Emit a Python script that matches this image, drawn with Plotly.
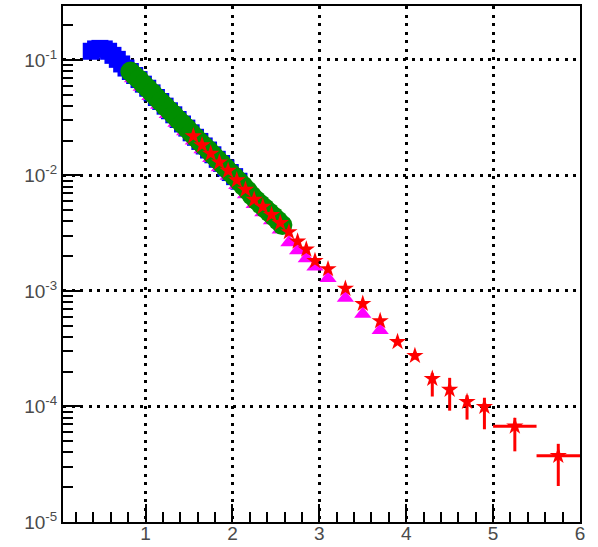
import plotly.graph_objects as go

# ---- spectra (bin centres and yields) -----------------------------------
blue_x = [0.375, 0.425, 0.475, 0.525, 0.575, 0.625, 0.675, 0.725, 0.775, 0.825,
          0.875, 0.925, 0.975, 1.025, 1.075, 1.125, 1.175, 1.225, 1.275, 1.325,
          1.375, 1.425, 1.475, 1.525, 1.575, 1.625, 1.675, 1.725, 1.775, 1.825,
          1.875, 1.925, 1.975, 2.025, 2.075]
blue_y = [0.1189, 0.1245, 0.1259, 0.1245, 0.1189, 0.1096, 0.1012, 0.0923, 0.0851, 0.0794,
          0.0733, 0.0676, 0.0617, 0.0569, 0.0519, 0.0473, 0.0437, 0.0398, 0.0363, 0.0335,
          0.0305, 0.0279, 0.0257, 0.0234, 0.0214, 0.0197, 0.0180, 0.0166, 0.0151, 0.0138,
          0.0127, 0.0116, 0.0106, 0.00977, 0.00891]

green_x = [0.825, 0.875, 0.925, 0.975, 1.025, 1.075, 1.125, 1.175, 1.225, 1.275,
           1.325, 1.375, 1.425, 1.475, 1.525, 1.575, 1.625, 1.675, 1.725, 1.775,
           1.825, 1.875, 1.925, 1.975, 2.025, 2.075, 2.125, 2.175, 2.225, 2.275,
           2.325, 2.375, 2.425, 2.475, 2.525, 2.575]
green_y = [0.0794, 0.0730, 0.0678, 0.0617, 0.0569, 0.0521, 0.0473, 0.0435, 0.0398, 0.0365,
           0.0335, 0.0305, 0.0280, 0.0257, 0.0234, 0.0214, 0.0196, 0.0180, 0.0166, 0.0151,
           0.0138, 0.0127, 0.0116, 0.0106, 0.00975, 0.00891, 0.00813, 0.00741, 0.00668, 0.00610,
           0.00562, 0.00519, 0.00479, 0.00442, 0.00407, 0.00372]

magenta_x = [0.85, 0.95, 1.05, 1.15, 1.25, 1.35, 1.45, 1.55, 1.65, 1.75,
             1.85, 1.95, 2.05, 2.15, 2.25, 2.35, 2.45, 2.55, 2.65, 2.75,
             2.85, 2.95, 3.1, 3.3, 3.5, 3.7]
magenta_y = [0.0692, 0.0582, 0.0484, 0.0407, 0.0339, 0.0285, 0.0240, 0.0200, 0.0168, 0.0141,
             0.0117, 0.00989, 0.00822, 0.00684, 0.00562, 0.00479, 0.00407, 0.00339, 0.00263, 0.00224,
             0.00191, 0.00162, 0.00129, 0.000871, 0.000631, 0.000457]

red_x = [1.55, 1.65, 1.75, 1.85, 1.95, 2.05, 2.15, 2.25, 2.35, 2.45,
         2.55, 2.65, 2.75, 2.85, 2.95, 3.1, 3.3, 3.5, 3.7, 3.9,
         4.1, 4.3, 4.5, 4.7, 4.9, 5.25, 5.75]
red_y = [0.0219, 0.0183, 0.0155, 0.0130, 0.0110, 0.00912, 0.00755, 0.00617, 0.00537, 0.00457,
         0.00389, 0.00324, 0.00269, 0.00229, 0.00182, 0.00155, 0.00105, 0.000776, 0.000550, 0.000363,
         0.000275, 0.000174, 0.000140, 0.000110, 0.0000995, 0.0000673, 0.0000375]
red_err_up = [0.0004, 0.0003, 0.0003, 0.0003, 0.0002, 0.0002, 0.0002, 0.00015, 0.00015, 0.00012,
              0.0001, 0.0001, 0.00008, 0.00008, 0.00007, 0.00005, 0.00004, 0.00003, 0.000025, 0.00002,
              0.00002, 0.00002, 0.000037, 0.000015, 0.0000195, 0.0000125, 0.0000100]
red_err_dn = [0.0004, 0.0003, 0.0003, 0.0003, 0.0002, 0.0002, 0.0002, 0.00015, 0.00015, 0.00012,
              0.0001, 0.0001, 0.00008, 0.00008, 0.00007, 0.00005, 0.00004, 0.00003, 0.000025, 0.00002,
              0.00002, 0.000052, 0.000048, 0.000033, 0.000036, 0.0000264, 0.0000170]
red_xerr = [0] * 25 + [0.25, 0.25]

# ---- axis decorations ------------------------------------------------------
x_ticks = [1, 2, 3, 4, 5, 6]
y_ticks = [1e-5, 1e-4, 1e-3, 1e-2, 1e-1]
y_labels = ["10<sup>-5</sup>", "10<sup>-4</sup>", "10<sup>-3</sup>",
            "10<sup>-2</sup>", "10<sup>-1</sup>"]

fig = go.Figure()

fig.add_trace(go.Scatter(
    x=blue_x, y=blue_y, mode="markers",
    marker=dict(symbol="square", size=17, color="#0000ff", line=dict(width=0)),
))
fig.add_trace(go.Scatter(
    x=magenta_x, y=magenta_y, mode="markers",
    marker=dict(symbol="triangle-up", size=15, color="#ff00ff", line=dict(width=0)),
))
fig.add_trace(go.Scatter(
    x=green_x, y=green_y, mode="markers",
    marker=dict(symbol="circle", size=20, color="#008e00", line=dict(width=0)),
))
fig.add_trace(go.Scatter(
    x=red_x, y=red_y, mode="markers",
    marker=dict(symbol="star", size=13, color="#ff0000", line=dict(width=0)),
    error_y=dict(type="data", symmetric=False, array=red_err_up, arrayminus=red_err_dn,
                 color="#ff0000", thickness=3, width=0),
    error_x=dict(type="data", array=red_xerr, color="#ff0000", thickness=3, width=0),
))

tick_font = dict(family="Liberation Sans, Arial, sans-serif", size=19, color="#4a4a4a")

fig.update_xaxes(
    range=[0.05, 6.0], showline=True, linecolor="black", linewidth=2, mirror=True,
    ticks="inside", ticklen=18, tickwidth=2, tickcolor="black",
    tickmode="array", tickvals=x_ticks, tickfont=tick_font, ticklabelstandoff=-7,
    showgrid=True, gridcolor="black", gridwidth=2.5, griddash="3px,5.5px",
    zeroline=False, automargin=False,
    minor=dict(ticks="inside", ticklen=10, tickwidth=2, tickcolor="black",
               dtick=0.2, tick0=0, showgrid=False),
)
fig.update_yaxes(
    type="log", range=[-5, -0.533], showline=True, linecolor="black", linewidth=2,
    mirror=True, ticks="inside", ticklen=18, tickwidth=2, tickcolor="black",
    tickmode="array", tickvals=y_ticks, ticktext=y_labels, tickfont=tick_font,
    showgrid=True, gridcolor="black", gridwidth=2.5, griddash="3px,5.5px",
    zeroline=False, automargin=False,
    minor=dict(ticks="inside", ticklen=10, tickwidth=2, tickcolor="black",
               dtick="D1", showgrid=False),
)

fig.update_layout(
    width=598, height=547,
    margin=dict(l=63, r=18, t=6, b=25),
    paper_bgcolor="white", plot_bgcolor="white",
    showlegend=False,
)

fig.write_html("out.html")
